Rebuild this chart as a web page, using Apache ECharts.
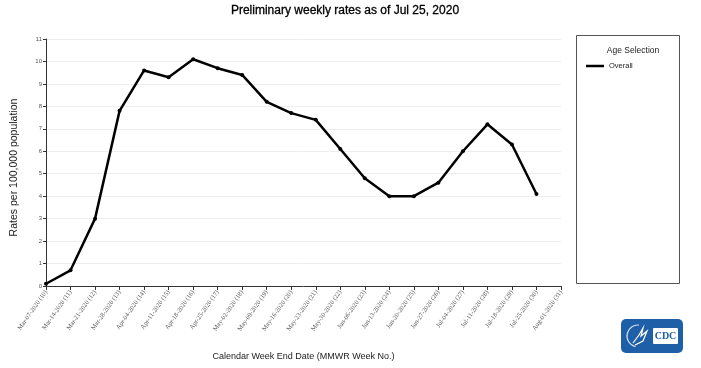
<!DOCTYPE html>
<html>
<head>
<meta charset="utf-8">
<script src="https://cdn.jsdelivr.net/npm/echarts@6/dist/echarts.min.js"></script>
<style>html,body{margin:0;padding:0;background:#fff}#c{width:701px;height:368px}</style>
</head>
<body>
<div id="c"></div>
<script>
const categories = ['Mar-07-2020 (10)','Mar-14-2020 (11)','Mar-21-2020 (12)','Mar-28-2020 (13)','Apr-04-2020 (14)','Apr-11-2020 (15)','Apr-18-2020 (16)','Apr-25-2020 (17)','May-02-2020 (18)','May-09-2020 (19)','May-16-2020 (20)','May-23-2020 (21)','May-30-2020 (22)','Jun-06-2020 (23)','Jun-13-2020 (24)','Jun-20-2020 (25)','Jun-27-2020 (26)','Jul-04-2020 (27)','Jul-11-2020 (28)','Jul-18-2020 (29)','Jul-25-2020 (30)','Aug-01-2020 (31)'];
const overall = [0.1, 0.7, 3.0, 7.8, 9.6, 9.3, 10.1, 9.7, 9.4, 8.2, 7.7, 7.4, 6.1, 4.8, 4.0, 4.0, 4.6, 6.0, 7.2, 6.3, 4.1, null];
const seriesName = 'Overall';
const titleText = 'Preliminary weekly rates as of Jul 25, 2020';
const legendTitle = 'Age Selection';
const yAxisName = 'Rates per 100,000 population';
const xAxisName = 'Calendar Week End Date (MMWR Week No.)';

const chart = echarts.init(document.getElementById('c'));
chart.setOption({
  animation: false,
  backgroundColor: '#fff',
  title: [
    {text: titleText, left: 340, top: 0, textAlign: 'center',
     textStyle: {fontFamily: 'Liberation Sans', fontSize: 12, fontWeight: 'normal', color: '#000', textBorderColor: '#000', textBorderWidth: 0.3}},
    {text: legendTitle, left: 628, top: 41, textAlign: 'center',
     textStyle: {fontFamily: 'Liberation Sans', fontSize: 8.5, fontWeight: 'normal', color: '#222'}}
  ],
  legend: {
    left: 581, top: 57, icon: 'rect', itemWidth: 18, itemHeight: 2.5, itemGap: 6,
    data: [seriesName],
    textStyle: {fontFamily: 'Liberation Sans', fontSize: 7.5, color: '#222'}
  },
  grid: {left: 46, right: 140, top: 39, bottom: 82, containLabel: false},
  xAxis: {
    type: 'category', data: categories, boundaryGap: false,
    name: xAxisName, nameLocation: 'middle', nameGap: 66,
    nameTextStyle: {fontFamily: 'Liberation Sans', fontSize: 9, color: '#222'},
    axisLine: {lineStyle: {color: '#333', width: 1}},
    axisTick: {show: true, length: 4, lineStyle: {color: '#333'}},
    axisLabel: {rotate: 55, fontFamily: 'Liberation Serif', fontSize: 6.5, color: '#555', margin: 5, interval: 0},
    splitLine: {show: false}
  },
  yAxis: {
    type: 'value', min: 0, max: 11, interval: 1,
    name: yAxisName, nameLocation: 'middle', nameGap: 26,
    nameTextStyle: {fontFamily: 'Liberation Sans', fontSize: 10.5, color: '#222', padding: [0, 10, 0, 0]},
    axisLine: {show: true, lineStyle: {color: '#333', width: 1}},
    axisTick: {show: true, length: 3, lineStyle: {color: '#333'}},
    axisLabel: {fontFamily: 'Liberation Sans', fontSize: 6, color: '#555', margin: 4},
    splitLine: {show: true, lineStyle: {color: '#eeeeee', width: 1}}
  },
  series: [{
    name: seriesName, type: 'line', data: overall,
    symbol: 'circle', symbolSize: 4, showSymbol: true,
    lineStyle: {color: '#000', width: 2.5},
    itemStyle: {color: '#000'}
  }],
  graphic: [
    {type: 'rect', shape: {x: 576.5, y: 35.5, width: 103, height: 248}, style: {fill: 'none', stroke: '#555', lineWidth: 1}, z: -1},
    {type: 'group', left: 621, top: 319, children: [
      {type: 'rect', shape: {x: 0, y: 0, width: 62, height: 34, r: 5}, style: {fill: '#1f5fa8'}},
      {type: 'arc', shape: {cx: 17, cy: 17, r: 11, startAngle: 1.8, endAngle: 4.8}, style: {stroke: '#cfe0f3', lineWidth: 1.2, fill: 'none'}},
      {type: 'polyline', shape: {points: [[12,24],[18,16],[22,9],[20,17],[26,12],[22,22],[14,26]]}, style: {stroke: '#ffffff', lineWidth: 1.2, fill: 'none'}},
      {type: 'rect', shape: {x: 32, y: 9, width: 25, height: 16, r: 1}, style: {fill: '#ffffff'}},
      {type: 'text', style: {x: 44.5, y: 17, text: 'CDC', fill: '#1f5fa8', font: 'bold 10px Liberation Serif', align: 'center', verticalAlign: 'middle'}}
    ]}
  ]
});
</script>
</body>
</html>
